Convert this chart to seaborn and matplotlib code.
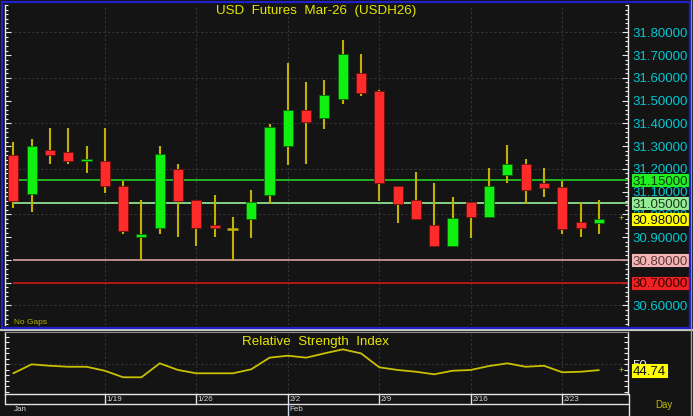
import numpy as np
import pandas as pd
import seaborn as sns
import matplotlib
matplotlib.use("Agg")
import matplotlib.pyplot as plt
import matplotlib.transforms as mtransforms
from matplotlib.patches import Rectangle
from matplotlib.lines import Line2D

# ---------------- data ----------------
dates = ["1/12", "1/13", "1/14", "1/15", "1/16",
         "1/19", "1/20", "1/21", "1/22", "1/23",
         "1/26", "1/27", "1/28", "1/29", "1/30",
         "2/2", "2/3", "2/4", "2/5", "2/6",
         "2/9", "2/10", "2/11", "2/12", "2/13",
         "2/16", "2/17", "2/18", "2/19", "2/20",
         "2/23", "2/24", "2/25"]
opens = [31.26, 31.09, 31.285, 31.275, 31.235, 31.235, 31.125, 30.90, 30.94, 31.20,
         31.065, 30.955, 30.935, 30.98, 31.085, 31.30, 31.46, 31.425, 31.505, 31.62,
         31.54, 31.125, 31.065, 30.955, 30.86, 31.055, 30.99, 31.175, 31.22, 31.14,
         31.12, 30.965, 30.96]
highs = [31.32, 31.33, 31.38, 31.38, 31.30, 31.38, 31.145, 31.065, 31.30, 31.22,
         31.065, 31.085, 30.99, 31.105, 31.395, 31.665, 31.58, 31.59, 31.765, 31.705,
         31.545, 31.125, 31.185, 31.14, 31.075, 31.055, 31.205, 31.305, 31.245, 31.205,
         31.145, 31.055, 31.065]
lows = [31.03, 31.01, 31.22, 31.22, 31.18, 31.095, 30.915, 30.80, 30.915, 30.90,
        30.86, 30.90, 30.795, 30.895, 31.045, 31.215, 31.22, 31.375, 31.485, 31.52,
        31.06, 30.96, 30.975, 30.855, 30.855, 30.895, 30.99, 31.14, 31.045, 31.075,
        30.915, 30.90, 30.915]
closes = [31.06, 31.30, 31.26, 31.235, 31.245, 31.125, 30.925, 30.915, 31.265, 31.06,
          30.94, 30.94, 30.935, 31.055, 31.385, 31.46, 31.405, 31.525, 31.705, 31.535,
          31.14, 31.045, 30.98, 30.86, 30.985, 30.99, 31.125, 31.22, 31.105, 31.115,
          30.935, 30.94, 30.98]
rsi = [41.9, 50.0, 48.7, 47.8, 47.8, 44.2, 38.3, 38.3, 50.9, 44.9,
       41.9, 41.9, 41.9, 45.5, 56.0, 57.8, 56.0, 59.9, 63.5, 59.9,
       47.3, 44.9, 43.3, 41.0, 44.2, 44.9, 48.5, 50.9, 47.8, 48.7,
       42.8, 43.3, 44.74]
price_ticks = [30.6, 30.7, 30.8, 30.9, 31.0, 31.1, 31.2, 31.3, 31.4, 31.5, 31.6, 31.7, 31.8]
price_grid = [30.6, 30.8, 31.0, 31.2, 31.4, 31.6, 31.8]
level_values = [31.15, 31.05, 30.80, 30.70]
last_price = 30.98
week_labels = ["1/19", "1/26", "2/2", "2/9", "2/16", "2/23"]
month_labels = ["Jan", "Feb"]
month_starts = ["1/12", "2/2"]
title = "USD  Futures  Mar-26  (USDH26)"
rsi_title = "Relative  Strength  Index"

# ---------------- style ----------------
BG = "#141414"
GRID = "#353535"
CYAN = "#00c8d2"
YEL = "#e6e600"
OLIVE = "#c0b800"
WICK = "#c4b000"
GREEN = "#10f010"
RED = "#ff2a2a"
level_line_colors = ["#22c022", "#8ee08e", "#c89494", "#c01818"]
level_box_colors = ["#22ee22", "#96ec96", "#f4b4b4", "#ee2222"]
level_text_colors = ["#0a3a0a", "#1a3a1a", "#5a3a3a", "#3a0000"]

sns.set_style("dark", rc={"axes.facecolor": BG, "figure.facecolor": BG})
plt.rcParams["font.family"] = ["Liberation Sans", "DejaVu Sans"]

W, H = 693, 416
fig = plt.figure(figsize=(W / 100, H / 100), dpi=100, facecolor=BG)


def fx(x):
    return x / W


def fy(y):
    return 1 - y / H


def add_ax(x0, y0, x1, y1):
    a = fig.add_axes([fx(x0), fy(y1), fx(x1) - fx(x0), fy(y0) - fy(y1)])
    a.set_facecolor(BG)
    return a


ax = add_ax(5, 5, 628, 325)
ax_r = add_ax(5, 332, 628, 394)

df = pd.DataFrame({"date": dates, "open": opens, "high": highs, "low": lows,
                   "close": closes, "rsi": rsi})
df["idx"] = np.arange(len(df))
XL = (-0.454, 33.59)

# ---------------- main price panel ----------------
ax.set_xlim(*XL)
ax.set_ylim(30.514, 31.917)
week_idx = [dates.index(d) for d in week_labels]
for wi in week_idx:
    ax.axvline(wi, color=GRID, lw=0.8, ls=(0, (2, 2)), zorder=0)
for g in price_grid:
    ax.axhline(g, color=GRID, lw=0.8, ls=(0, (2, 2)), zorder=0)

for v, c in zip(level_values, level_line_colors):
    ax.hlines(v, 0, XL[1], color=c, lw=1.3, zorder=1)

ax.vlines(df["idx"], df["low"], df["high"], color=WICK, lw=1.5, zorder=2)
body = df["close"] - df["open"]
up = body >= 0
is_doji = body.abs() < 0.002
colors = np.where(up, GREEN, RED)
edges = np.where(up, "#0a600a", "#701010")
mask = ~is_doji
ax.bar(df["idx"][mask], body[mask], bottom=df["open"][mask], width=0.55,
       color=colors[mask], edgecolor=edges[mask], linewidth=0.6, zorder=3)
ax.hlines(df["open"][is_doji], df["idx"][is_doji] - 0.3, df["idx"][is_doji] + 0.3,
          color=WICK, lw=1.8, zorder=3)

ax.set_yticks(price_ticks)
ax.set_yticklabels([f"{v:.5f}" for v in price_ticks])
ax.set_yticks(np.arange(30.52, 31.92, 0.02), minor=True)
ax.tick_params(axis="y", which="both", direction="in", left=True, right=True,
               labelleft=False, labelright=True, color="#e8e8e8",
               labelcolor=CYAN, labelsize=9.5, pad=3)
ax.tick_params(axis="y", which="major", length=4, width=0.8)
ax.tick_params(axis="y", which="minor", length=2, width=0.8)
ax.tick_params(axis="x", which="both", bottom=False, labelbottom=False)
ax.grid(False)
for s in ["top", "bottom"]:
    ax.spines[s].set_visible(False)
for s in ["left", "right"]:
    ax.spines[s].set_visible(True)
    ax.spines[s].set_color("#e8e8e8")
    ax.spines[s].set_linewidth(1)

ax.set_xlabel("")
ax.set_ylabel("")

# ---------------- RSI panel ----------------
sns.lineplot(data=df, x="idx", y="rsi", ax=ax_r, color="#c8c000", lw=1.3)
ax_r.set_xlim(*XL)
ax_r.set_ylim(23.2, 79.2)
for wi in week_idx:
    ax_r.axvline(wi, color=GRID, lw=0.8, ls=(0, (2, 2)), zorder=0)
ax_r.axhline(50, color=GRID, lw=0.8, ls=(0, (2, 2)), zorder=0)
ax_r.set_yticks([50])
ax_r.set_yticklabels(["50"])
ax_r.set_yticks(np.arange(25, 80, 5), minor=True)
ax_r.tick_params(axis="y", which="both", direction="in", left=True, right=True,
                 labelleft=False, labelright=True, color="#e8e8e8",
                 labelcolor="#e0e0e0", labelsize=9.5, pad=3, length=3, width=0.8)
ax_r.tick_params(axis="x", which="both", bottom=False, labelbottom=False)
ax_r.grid(False)
ax_r.set_xlabel("")
ax_r.set_ylabel("")
for s in ["left", "right", "bottom"]:
    ax_r.spines[s].set_visible(True)
    ax_r.spines[s].set_color("#e8e8e8")
    ax_r.spines[s].set_linewidth(1)
ax_r.spines["top"].set_visible(True)
ax_r.spines["top"].set_color("#909090")

# ---------------- frames & separators ----------------
fig.add_artist(Line2D([0, 1], [fy(330)] * 2, transform=fig.transFigure,
                      color="#c8c8c8", lw=1.6))
fig.add_artist(Rectangle((fx(2), fy(327.5)), fx(690) - fx(2), fy(1.5) - fy(327.5),
                         transform=fig.transFigure, fill=False,
                         edgecolor="#2020c8", lw=1.6, zorder=10))
fig.add_artist(Line2D([fx(690.5)] * 2, [0, 1], transform=fig.transFigure,
                      color="#a0a0a0", lw=1))
# right axis line continuing through date rows
fig.add_artist(Line2D([fx(628.5)] * 2, [fy(394), 0], transform=fig.transFigure,
                      color="#e8e8e8", lw=1))

# date rows
fig.add_artist(Line2D([fx(5), fx(628.5)], [fy(403.5)] * 2, transform=fig.transFigure,
                      color="#e0e0e0", lw=1))
fig.add_artist(Line2D([fx(5)] * 2, [fy(394), fy(403.5)], transform=fig.transFigure,
                      color="#e0e0e0", lw=1))
bt = mtransforms.blended_transform_factory(ax_r.transData, fig.transFigure)
for lab, wi in zip(week_labels, week_idx):
    fig.add_artist(Line2D([wi, wi], [fy(394), fy(403.5)], transform=bt,
                          color="#e0e0e0", lw=1))
    fig.text(wi + 0.07, fy(399.3), lab, transform=bt, color="#d8d8d8",
             fontsize=5.8, ha="left", va="center")
for lab, d in zip(month_labels, month_starts):
    mi = dates.index(d)
    if mi > 0:
        fig.add_artist(Line2D([mi, mi], [fy(403.5), 0], transform=bt,
                              color="#c8d8f0", lw=1))
        fig.text(mi + 0.07, fy(409.5), lab, transform=bt, color="#d8d8d8",
                 fontsize=5.8, ha="left", va="center")
    else:
        fig.text(mi + 0.03, fy(409.5), lab, transform=bt, color="#d8d8d8",
                 fontsize=5.8, ha="left", va="center")

# ---------------- titles & texts ----------------
fig.text(fx(316), fy(11), title, color=YEL, fontsize=9.6, ha="center", va="center")
fig.text(fx(315), fy(341.5), rsi_title, color=YEL, fontsize=9.6, ha="center", va="center")
fig.text(fx(14), fy(322.5), "No Gaps", color="#b4b400", fontsize=6, ha="left", va="center")
fig.text(fx(664), fy(405.5), "Day", color=OLIVE, fontsize=7, ha="center", va="center")


def label_box(axis, val, text, fc, tc, ec=None, x0=631.5, x1=689.5, h=12):
    yd = axis.transData.transform((0, val))[1]
    yf = yd / H
    fig.add_artist(Rectangle((fx(x0), yf - h / 2 / H), (x1 - x0) / W, h / H,
                             transform=fig.transFigure, fc=fc,
                             ec=ec if ec else fc, lw=0.8, zorder=5))
    fig.text(fx(x0 + 1.2), yf - 4.6 / H, text, color=tc, fontsize=9.5,
             ha="left", va="baseline", zorder=6)
    return yf


for v, fc, tc in zip(level_values, level_box_colors, level_text_colors):
    label_box(ax, v, f"{v:.5f}", fc, tc)
yf_last = label_box(ax, last_price, f"{last_price:.5f}", "#ffff00", "#101010")
yf_rsi = label_box(ax_r, rsi[-1], f"{rsi[-1]:.2f}", "#ffff00", "#101010", x1=666.5, h=13)
fig.text(fx(621.5), yf_last, "+", color="#e0c800", fontsize=6.5, ha="center", va="center")
fig.text(fx(621.5), yf_rsi, "+", color="#e0c800", fontsize=6.5, ha="center", va="center")

fig.savefig("out.png", dpi=100, facecolor=BG)
